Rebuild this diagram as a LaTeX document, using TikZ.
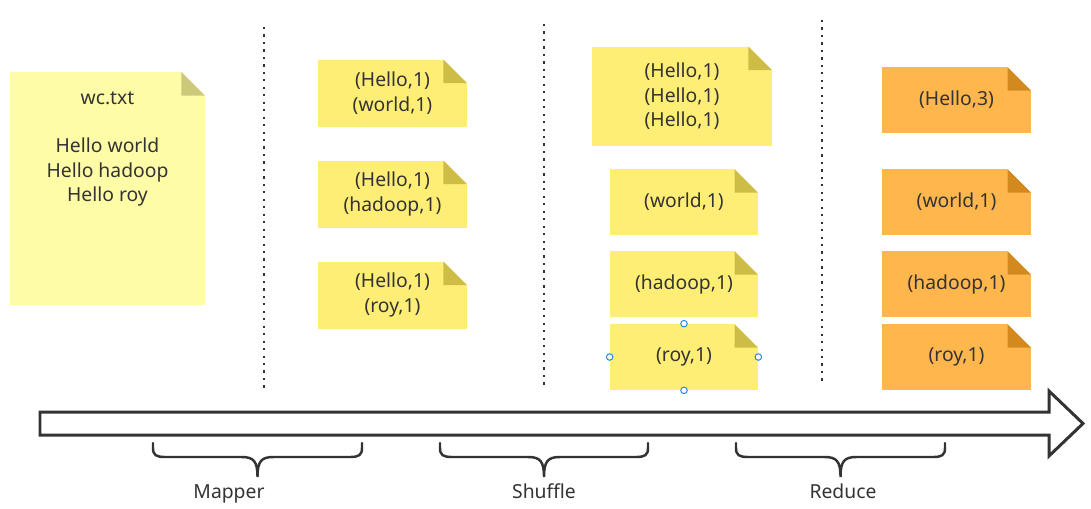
\documentclass[tikz,border=0pt]{standalone}
\usepackage{fontspec}
\setmainfont{Noto Sans}
\definecolor{ink}{HTML}{333333}
\definecolor{filebg}{HTML}{FFFCA8}
\definecolor{filefold}{HTML}{CCCA7A}
\definecolor{notebg}{HTML}{FFEE75}
\definecolor{notefold}{HTML}{CDBD46}
\definecolor{redbg}{HTML}{FFB74D}
\definecolor{redfold}{HTML}{D4891E}
\definecolor{handle}{HTML}{2F8CE6}
\def\fsz{0.47cm}
\tikzset{
  note/.style 2 args={rectangle, fill=#1, inner sep=0pt, align=center,
    text=ink, font=\fontsize{11}{13.9}\selectfont,
    path picture={
      \fill[white] ([xshift=-\fsz]path picture bounding box.north east)
        -- (path picture bounding box.north east)
        -- ([yshift=-\fsz]path picture bounding box.north east) -- cycle;
      \fill[#2] ([xshift=-\fsz]path picture bounding box.north east)
        -- ([xshift=-\fsz,yshift=-\fsz]path picture bounding box.north east)
        -- ([yshift=-\fsz]path picture bounding box.north east) -- cycle;
    }},
  mapnote/.style={note={notebg}{notefold}, minimum width=2.98cm, minimum height=1.34cm},
  shufnote/.style={note={notebg}{notefold}, minimum width=2.96cm, minimum height=1.32cm},
  rednote/.style={note={redbg}{redfold}, minimum width=2.98cm, minimum height=1.32cm},
  sep/.style={ink, line width=1.25pt, dash pattern=on 1.25pt off 3pt},
  phase/.style={text=ink, font=\fontsize{11}{13.9}\selectfont},
  grip/.style={circle, draw=handle, fill=white, line width=0.6pt, inner sep=0pt, minimum size=0.13cm},
}
\begin{document}
\begin{tikzpicture}[x=0.02cm, y=-0.02cm]
\useasboundingbox (0,0) rectangle (1091,508);

% input file
\node[note={filebg}{filefold}, minimum width=3.9cm, minimum height=4.66cm] (wc) at (107.5,188.5) {};
\node[phase, align=center, anchor=north, inner sep=0pt] (wctext) at (107.5,91)
  {wc.txt\\[13.9pt]Hello world\\Hello hadoop\\Hello roy};

% mapper output
\node[mapnote] (m1) at (392.5,93) {(Hello,1)\\(world,1)};
\node[mapnote] (m2) at (392.5,194) {(Hello,1)\\(hadoop,1)};
\node[mapnote] (m3) at (392.5,295) {(Hello,1)\\(roy,1)};

% shuffle output
\node[note={notebg}{notefold}, minimum width=3.6cm, minimum height=2.0cm] (s1) at (682,96.5) {(Hello,1)\\(Hello,1)\\(Hello,1)};
\node[shufnote] (s2) at (684,202) {(world,1)};
\node[shufnote] (s3) at (684,284) {(hadoop,1)};
\node[shufnote] (s4) at (684,357) {(roy,1)};
%\node[shufnote] (s5) at (684,430) {};
\node[grip] at (s4.north) {};
\node[grip] at (s4.south) {};
\node[grip] at (s4.west) {};
\node[grip] at (s4.east) {};

% reduce output
\node[rednote] (r1) at (956.5,100) {(Hello,3)};
\node[rednote] (r2) at (956.5,202) {(world,1)};
\node[rednote] (r3) at (956.5,284) {(hadoop,1)};
\node[rednote] (r4) at (956.5,357) {(roy,1)};

% separators
\draw[sep] (264,27) -- (264,388);
\draw[sep] (544,24) -- (544,385);
\draw[sep] (822,20) -- (822,382);

% time axis
\draw[ink, line width=1.7pt, line join=miter] (40,412) -- (1049,412) -- (1049,391) -- (1083,423.5)
  -- (1049,456) -- (1049,435) -- (40,435) -- cycle;

% phases
\foreach \xa/\xb/\lab/\lx in {153/362/Mapper/229, 440/648/Shuffle/544, 736/945/Reduce/843}{
  \pgfmathsetmacro{\xc}{(\xa+\xb)/2}
  \draw[ink, line width=1.4pt, line cap=round]
    (\xa,443) -- (\xa,448) .. controls (\xa,455) and (\xa+3,457) .. (\xa+12,457)
    -- (\xc-16,457) .. controls (\xc-4,457) and (\xc,461) .. (\xc,477)
    .. controls (\xc,461) and (\xc+4,457) .. (\xc+16,457)
    -- (\xb-12,457) .. controls (\xb-3,457) and (\xb,455) .. (\xb,448) -- (\xb,443);
  \node[phase, anchor=base] (\lab) at (\lx,498) {\lab};
}
\end{tikzpicture}
\end{document}
